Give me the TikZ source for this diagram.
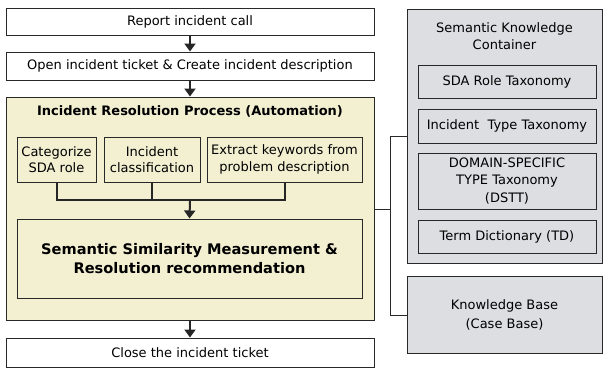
\documentclass[tikz,border=0pt]{standalone}
\usepackage{fontspec}
\setmainfont{DejaVu Sans}
\usetikzlibrary{arrows.meta}
\definecolor{procfill}{RGB}{243,240,210}
\definecolor{kbfill}{RGB}{221,222,226}
\definecolor{edge}{RGB}{40,40,40}
\begin{document}
\begin{tikzpicture}[x=1pt,y=-1pt,
  box/.style={draw=edge,line width=1pt,rectangle,inner sep=0pt,align=center,font=\fontsize{13}{16.5}\selectfont},
  flow/.style={line width=2pt,draw=black!85,-{Triangle[length=8pt,width=11pt]}},
  merge/.style={line width=2pt,draw=black!85},
  link/.style={line width=0.8pt,draw=edge}]
\useasboundingbox (0,0) rectangle (603,368);
% main process column
\node[box,fill=white,minimum width=368pt,minimum height=27pt] (report) at (190,21.5) {Report incident call};
\node[box,fill=white,minimum width=368pt,minimum height=28pt] (open) at (190,66) {Open incident ticket \& Create incident description};
\node[box,fill=procfill,minimum width=368pt,minimum height=223pt] (proc) at (190,208.5) {};
\node[font=\fontsize{13}{16}\selectfont\bfseries] (ptitle) at (190,111) {Incident Resolution Process (Automation)};
\node[box,fill=procfill,minimum width=79pt,minimum height=45pt] (sda) at (56.5,159.5) {Categorize\\SDA role};
\node[box,fill=procfill,minimum width=96pt,minimum height=45pt] (cls) at (152,159.5) {Incident\\classification};
\node[box,fill=procfill,minimum width=155pt,minimum height=45pt] (kw) at (284.5,159.5) {Extract keywords from\\problem description};
\node[box,fill=procfill,minimum width=345pt,minimum height=79pt,font=\fontsize{14.6}{19.5}\selectfont\bfseries] (sim) at (189.5,258.5) {Semantic Similarity Measurement \&\\Resolution recommendation};
\node[box,fill=white,minimum width=368pt,minimum height=29pt] (close) at (190,352.5) {Close the incident ticket};
% knowledge side
\node[box,fill=kbfill,minimum width=195pt,minimum height=254pt] (skc) at (504.5,136) {};
\node[align=center,font=\fontsize{13}{17}\selectfont] (skct) at (504.5,36.5) {Semantic Knowledge\\Container};
\node[box,fill=kbfill,minimum width=178pt,minimum height=33pt] (role) at (507,81.5) {SDA Role Taxonomy};
\node[box,fill=kbfill,minimum width=178pt,minimum height=34pt] (itype) at (507,126) {Incident\ \ Type Taxonomy};
\node[box,fill=kbfill,minimum width=178pt,minimum height=56pt,font=\fontsize{13}{17.5}\selectfont] (dstt) at (507,181) {DOMAIN-SPECIFIC\\TYPE Taxonomy\\(DSTT)};
\node[box,fill=kbfill,minimum width=178pt,minimum height=33pt] (td) at (507,236.5) {Term Dictionary (TD)};
\node[box,fill=kbfill,minimum width=195pt,minimum height=77pt,font=\fontsize{13}{19}\selectfont] (kb) at (504.5,314.5) {Knowledge Base\\(Case Base)};
% flow arrows
\draw[flow] (report.south) -- (open.north);
\draw[flow] (open.south) -- (proc.north);
\draw[flow] (proc.south) -- (close.north);
% merging the three analyses
\coordinate (jn) at (190,200);
\draw[merge] (sda.south) -- (sda.south |- jn) -- (kw.south |- jn) -- (kw.south);
\draw[merge] (cls.south) -- (cls.south |- jn);
\draw[flow] (jn) -- (sim.north);
% link to knowledge sources
\coordinate (bx) at (390,209);
\draw[link] (proc.east |- bx) -- (bx);
\draw[link] (skc.west |- 0,136) -- (bx |- 0,136) -- (bx |- 0,315) -- (kb.west |- 0,315);
\end{tikzpicture}
\end{document}
